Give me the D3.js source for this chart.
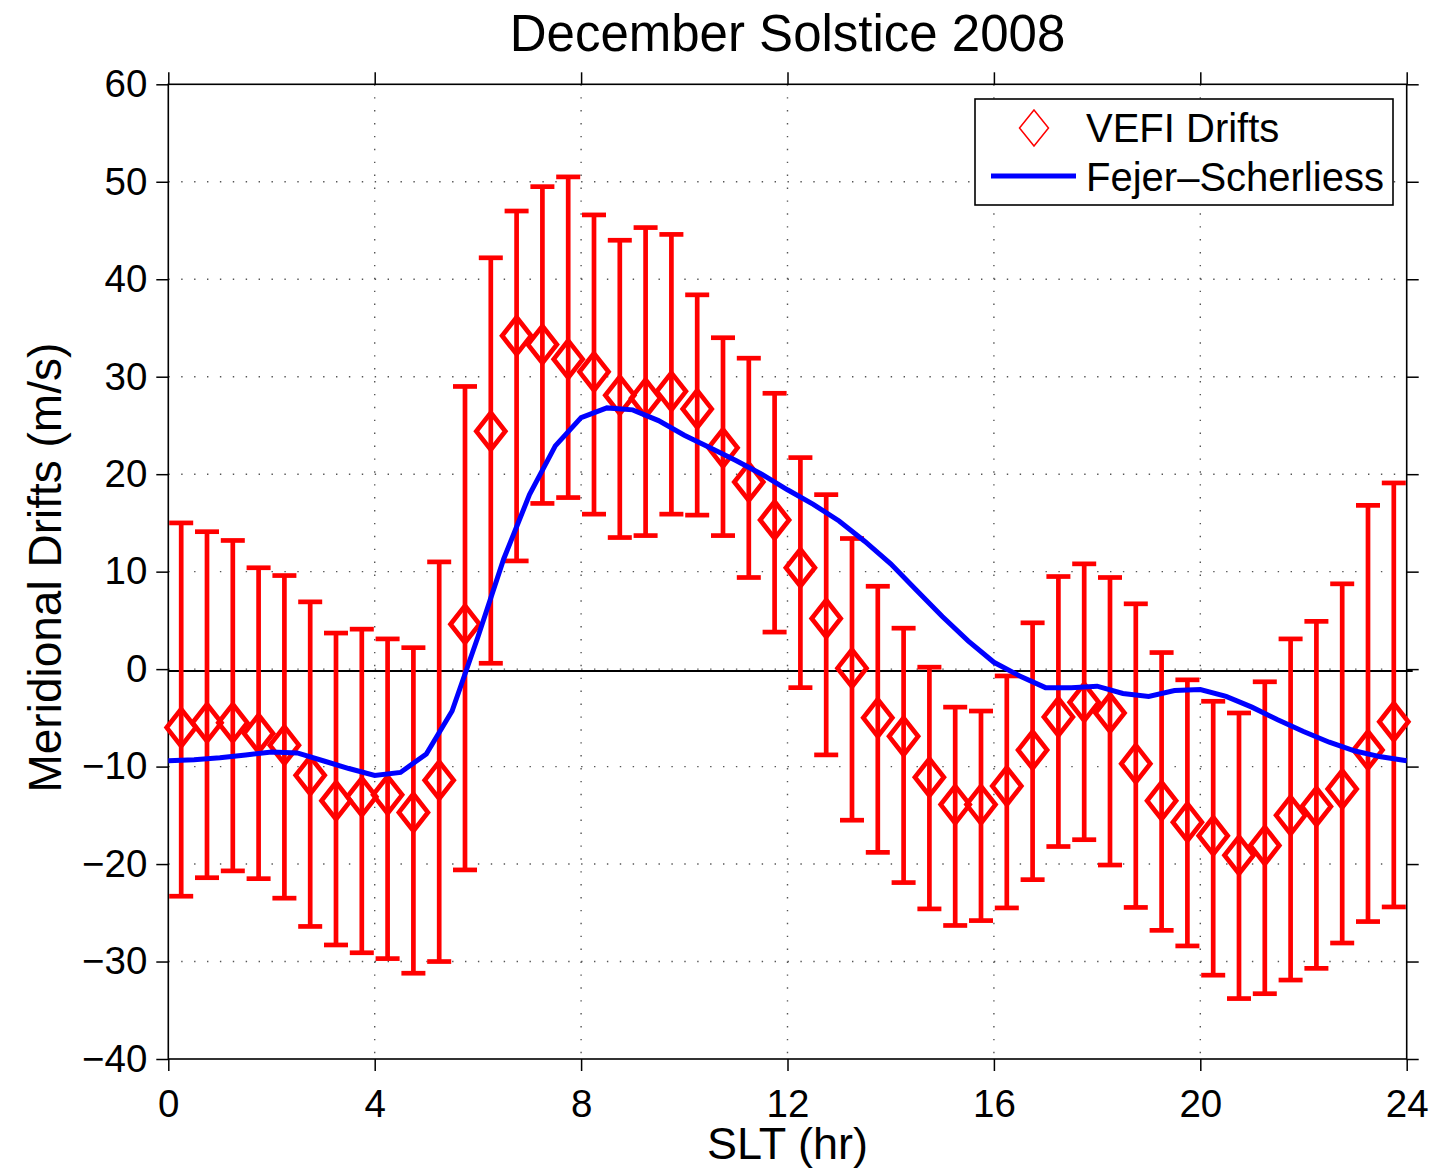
<!DOCTYPE html>
<html>
<head>
<meta charset="utf-8">
<title>December Solstice 2008</title>
<script src="https://cdn.jsdelivr.net/npm/d3@7"></script>
<style>
  body { margin: 0; background: #fff; }
  svg { display: block; font-family: "Liberation Sans", Arial, Helvetica, sans-serif; }
  .axis text { font-size: 38.5px; fill: #000; }
  .axis line { stroke: #000; stroke-width: 1.5; }
  .axis path { display: none; }
  .grid line { stroke: #555; stroke-width: 1.4; stroke-dasharray: 1.4, 11.5; }
</style>
</head>
<body>
<svg id="chart"></svg>
<script>
// SLT bin centres (hr) for VEFI drifts
const sltBins = [0.25, 0.75, 1.25, 1.75, 2.25, 2.75, 3.25, 3.75, 4.25, 4.75, 5.25, 5.75,
  6.25, 6.75, 7.25, 7.75, 8.25, 8.75, 9.25, 9.75, 10.25, 10.75, 11.25, 11.75,
  12.25, 12.75, 13.25, 13.75, 14.25, 14.75, 15.25, 15.75, 16.25, 16.75, 17.25, 17.75,
  18.25, 18.75, 19.25, 19.75, 20.25, 20.75, 21.25, 21.75, 22.25, 22.75, 23.25, 23.75];

// VEFI mean drift (m/s)
const vefiDrift = [-6.0, -5.5, -5.5, -6.6, -7.8, -10.9, -13.5, -13.1, -12.9, -14.7, -11.4, 4.6,
  24.4, 34.2, 33.3, 31.8, 30.5, 28.1, 27.8, 28.5, 26.7, 22.7, 19.2, 15.3,
  10.4, 5.2, 0.1, -5.0, -6.9, -11.1, -13.9, -13.9, -12.0, -8.3, -4.9, -3.4,
  -4.5, -9.7, -13.5, -15.7, -17.1, -19.1, -18.1, -15.0, -14.1, -12.3, -8.3, -5.4];

// error bar ends (m/s)
const vefiUpper = [15.0, 14.1, 13.2, 10.4, 9.6, 6.9, 3.7, 4.1, 3.1, 2.2, 11.0, 29.0,
  42.2, 47.0, 49.5, 50.5, 46.6, 44.0, 45.3, 44.6, 38.4, 34.0, 31.9, 28.3,
  21.7, 17.9, 13.4, 8.5, 4.2, 0.2, -3.9, -4.3, -0.7, 4.75, 9.5, 10.8,
  9.4, 6.7, 1.7, -1.1, -3.3, -4.5, -1.3, 3.1, 4.9, 8.75, 16.8, 19.1];

const vefiLower = [-23.3, -21.4, -20.7, -21.5, -23.5, -26.4, -28.3, -29.1, -29.7, -31.2, -30.0, -20.6,
  0.6, 11.1, 17.0, 17.6, 15.9, 13.5, 13.7, 15.9, 15.8, 13.7, 9.4, 3.8,
  -1.9, -8.8, -15.5, -18.8, -21.9, -24.6, -26.3, -25.8, -24.5, -21.6, -18.2, -17.5,
  -20.1, -24.45, -26.8, -28.4, -31.4, -33.8, -33.3, -31.9, -30.7, -28.1, -25.9, -24.4];

// Fejer-Scherliess model curve
const modelSlt = [0, 0.5, 1, 1.5, 2, 2.5, 3, 3.5, 4, 4.5, 5, 5.5,
  6, 6.5, 7, 7.5, 8, 8.5, 9, 9.5, 10, 10.5, 11, 11.5,
  12, 12.5, 13, 13.5, 14, 14.5, 15, 15.5, 16, 16.5, 17, 17.5,
  18, 18.5, 19, 19.5, 20, 20.5, 21, 21.5, 22, 22.5, 23, 23.5, 24];

const modelDrift = [-9.4, -9.3, -9.1, -8.8, -8.5, -8.6, -9.4, -10.2, -10.9, -10.6, -8.7, -4.3,
  3.3, 11.3, 17.9, 22.9, 25.8, 26.8, 26.6, 25.5, 24.0, 22.7, 21.4, 20.0,
  18.4, 16.9, 15.2, 13.1, 10.8, 8.1, 5.4, 2.9, 0.7, -0.7, -1.9, -1.9,
  -1.75, -2.5, -2.8, -2.2, -2.1, -2.8, -3.9, -5.2, -6.4, -7.5, -8.4, -9.0, -9.4];

// tick values
const xTicks = [0, 4, 8, 12, 16, 20, 24];
const yTicks = [-40, -30, -20, -10, 0, 10, 20, 30, 40, 50, 60];

class DriftChart {

  constructor(_config) {
    this.config = {
      parentElement: _config.parentElement,
      containerWidth: _config.containerWidth || 1455,
      containerHeight: _config.containerHeight || 1170,
      margin: _config.margin || {top: 84.3, right: 48.3, bottom: 111, left: 168.3}
    };
    this.initVis();
  }

  initVis() {
    let vis = this;
    vis.width = vis.config.containerWidth - vis.config.margin.left - vis.config.margin.right;
    vis.height = vis.config.containerHeight - vis.config.margin.top - vis.config.margin.bottom;

    vis.xScale = d3.scaleLinear().domain([0, 24]).range([0, vis.width]);
    vis.yScale = d3.scaleLinear().domain([-40, 60]).range([vis.height, 0]);

    vis.svg = d3.select(vis.config.parentElement)
      .attr('width', vis.config.containerWidth)
      .attr('height', vis.config.containerHeight);

    vis.chart = vis.svg.append('g')
      .attr('transform', `translate(${vis.config.margin.left},${vis.config.margin.top})`);

    vis.renderVis();
  }

  renderVis() {
    let vis = this;
    const x = vis.xScale, y = vis.yScale;

    // dotted grid
    vis.chart.append('g').attr('class', 'grid')
      .selectAll('line.v').data(xTicks.slice(1, -1)).join('line')
        .attr('x1', d => x(d)).attr('x2', d => x(d))
        .attr('y1', 0).attr('y2', vis.height);
    vis.chart.append('g').attr('class', 'grid')
      .selectAll('line.h').data(yTicks.slice(1, -1)).join('line')
        .attr('x1', 0).attr('x2', vis.width)
        .attr('y1', d => y(d)).attr('y2', d => y(d));

    // zero reference line
    vis.chart.append('line')
      .attr('x1', x(0)).attr('x2', x(24) + 6)
      .attr('y1', y(0) + 2).attr('y2', y(0) + 2)
      .attr('stroke', '#000').attr('stroke-width', 2);

    // axes
    const tick = 12;
    vis.chart.append('g').attr('class', 'axis')
      .attr('transform', `translate(0,${vis.height})`)
      .call(d3.axisBottom(x).tickValues(xTicks).tickSize(tick).tickSizeOuter(0).tickPadding(19));
    vis.chart.append('g').attr('class', 'axis')
      .call(d3.axisTop(x).tickValues(xTicks).tickSize(tick).tickSizeOuter(0).tickFormat(''));
    vis.chart.append('g').attr('class', 'axis')
      .call(d3.axisLeft(y).tickValues(yTicks).tickSize(tick).tickSizeOuter(0).tickPadding(9));
    vis.chart.append('g').attr('class', 'axis')
      .attr('transform', `translate(${vis.width},0)`)
      .call(d3.axisRight(y).tickValues(yTicks).tickSize(tick).tickSizeOuter(0).tickFormat(''));

    vis.chart.append('rect')
      .attr('width', vis.width).attr('height', vis.height)
      .attr('fill', 'none').attr('stroke', '#000').attr('stroke-width', 1.6);

    // VEFI error bars
    const data = sltBins.map((t, i) => ({t: t, v: vefiDrift[i], hi: vefiUpper[i], lo: vefiLower[i]}));
    const capW = 12;
    const bars = vis.chart.append('g')
      .attr('stroke', '#ff0000').attr('stroke-width', 4.7).attr('fill', 'none');
    bars.selectAll('.stem').data(data).join('line')
      .attr('x1', d => x(d.t)).attr('x2', d => x(d.t))
      .attr('y1', d => y(d.hi)).attr('y2', d => y(d.lo));
    bars.selectAll('.capTop').data(data).join('line')
      .attr('x1', d => x(d.t) - capW).attr('x2', d => x(d.t) + capW)
      .attr('y1', d => y(d.hi)).attr('y2', d => y(d.hi));
    bars.selectAll('.capBot').data(data).join('line')
      .attr('x1', d => x(d.t) - capW).attr('x2', d => x(d.t) + capW)
      .attr('y1', d => y(d.lo)).attr('y2', d => y(d.lo));

    // diamonds
    const dw = 14.5, dh = 18.5;
    const diamond = (cx, cy, w, h) => `M${cx},${cy - h}L${cx + w},${cy}L${cx},${cy + h}L${cx - w},${cy}Z`;
    bars.selectAll('.mark').data(data).join('path')
      .attr('d', d => diamond(x(d.t), y(d.v), dw, dh))
      .attr('stroke-linejoin', 'miter');

    // Fejer-Scherliess curve
    const line = d3.line().x(d => x(d[0])).y(d => y(d[1]));
    vis.chart.append('path')
      .datum(modelSlt.map((t, i) => [t, modelDrift[i]]))
      .attr('d', line)
      .attr('fill', 'none').attr('stroke', '#0000ff').attr('stroke-width', 5);

    // legend
    const lg = vis.svg.append('g');
    lg.append('rect')
      .attr('x', 975).attr('y', 99).attr('width', 418).attr('height', 106)
      .attr('fill', '#fff').attr('stroke', '#000').attr('stroke-width', 1.6);
    lg.append('path')
      .attr('d', diamond(1034, 128, 14.5, 18))
      .attr('fill', 'none').attr('stroke', '#ff0000').attr('stroke-width', 1.5);
    lg.append('line')
      .attr('x1', 991).attr('x2', 1076).attr('y1', 176).attr('y2', 176)
      .attr('stroke', '#0000ff').attr('stroke-width', 5);
    lg.append('text').attr('x', 1086).attr('y', 142)
      .attr('font-size', 40).text('VEFI Drifts');
    lg.append('text').attr('x', 1086).attr('y', 191)
      .attr('font-size', 40).text('Fejer\u2013Scherliess');

    // titles
    vis.svg.append('text')
      .attr('x', vis.config.margin.left + vis.width / 2).attr('y', 51)
      .attr('text-anchor', 'middle').attr('font-size', 51)
      .text('December Solstice 2008');
    vis.svg.append('text')
      .attr('x', vis.config.margin.left + vis.width / 2).attr('y', 1159)
      .attr('text-anchor', 'middle').attr('font-size', 45)
      .text('SLT (hr)');
    vis.svg.append('text')
      .attr('transform', `translate(61,${vis.config.margin.top + vis.height / 2 - 4}) rotate(-90)`)
      .attr('text-anchor', 'middle').attr('font-size', 46)
      .text('Meridional Drifts (m/s)');
  }
}

new DriftChart({parentElement: '#chart'});
</script>
</body>
</html>
